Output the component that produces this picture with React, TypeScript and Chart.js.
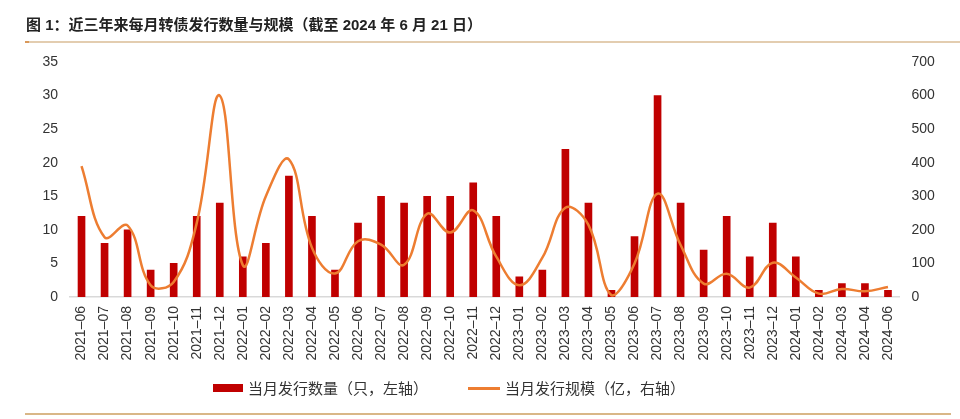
import React, { useEffect, useRef } from "react";
import { Chart, registerables } from "chart.js";

Chart.register(...registerables);

// ---- Data ----
const categories: string[] = [
  "2021–06", "2021–07", "2021–08", "2021–09", "2021–10", "2021–11", "2021–12",
  "2022–01", "2022–02", "2022–03", "2022–04", "2022–05", "2022–06", "2022–07",
  "2022–08", "2022–09", "2022–10", "2022–11", "2022–12",
  "2023–01", "2023–02", "2023–03", "2023–04", "2023–05", "2023–06", "2023–07",
  "2023–08", "2023–09", "2023–10", "2023–11", "2023–12",
  "2024–01", "2024–02", "2024–03", "2024–04", "2024–06",
];

// 当月发行数量（只，左轴）
const issueCounts: number[] = [
  12, 8, 10, 4, 5, 12, 14,
  6, 8, 18, 12, 4, 11, 15, 14, 15, 15, 17, 12,
  3, 4, 22, 14, 1, 9, 30, 14, 7, 12, 6, 11,
  6, 1, 2, 2, 1,
];

// 当月发行规模（亿，右轴）
const issueSizes: number[] = [
  390, 178, 213, 35, 45, 220, 600,
  95, 300, 410, 147, 70, 166, 156, 96, 248, 192, 258, 120,
  35, 117, 266, 215, 5, 100, 308, 155, 40, 69, 28, 102,
  58, 10, 24, 17, 30,
];

const leftAxis = { min: 0, max: 35, step: 5 };
const rightAxis = { min: 0, max: 700, step: 100 };

const titleText = "图 1：近三年来每月转债发行数量与规模（截至 2024 年 6 月 21 日）";
const barLabel = "当月发行数量（只，左轴）";
const lineLabel = "当月发行规模（亿，右轴）";

const BAR_COLOR = "#C00000";
const LINE_COLOR = "#ED7D31";
const TICK_FONT = "'Liberation Sans', Arial, sans-serif";
const CJK_FONT = "'Liberation Sans', 'Noto Sans CJK SC', sans-serif";

export default function App() {
  const canvasRef = useRef<HTMLCanvasElement>(null);

  useEffect(() => {
    document.body.style.margin = "0";
    const canvas = canvasRef.current;
    if (!canvas) return;
    const chart = new Chart(canvas, {
      type: "bar",
      data: {
        labels: categories,
        datasets: [
          {
            type: "bar",
            label: barLabel,
            data: issueCounts,
            backgroundColor: BAR_COLOR,
            yAxisID: "y",
            barThickness: 7,
            order: 1,
          } as any,
          {
            type: "line",
            label: lineLabel,
            data: issueSizes,
            borderColor: LINE_COLOR,
            backgroundColor: LINE_COLOR,
            borderWidth: 2.5,
            pointRadius: 0,
            tension: 0.4,
            yAxisID: "y1",
            order: 0,
            clip: false,
          } as any,
        ],
      },
      options: {
        responsive: false,
        animation: false,
        layout: { padding: { top: 62, bottom: 52, left: 0, right: 0 } },
        plugins: {
          legend: { display: false },
          tooltip: { enabled: false },
        },
        scales: {
          x: {
            grid: { display: false, drawTicks: false },
            border: { display: true, color: "#d9d9d9", width: 1.5 },
            ticks: {
              font: { family: TICK_FONT, size: 14 },
              color: "#333333",
              maxRotation: 90,
              minRotation: 90,
              padding: 9,
              autoSkip: false,
            },
            afterFit: (s: any) => {
              s.height = 70;
            },
          },
          y: {
            position: "left",
            min: leftAxis.min,
            max: leftAxis.max,
            grid: { display: false, drawTicks: false },
            border: { display: false },
            ticks: {
              stepSize: leftAxis.step,
              font: { family: TICK_FONT, size: 14 },
              color: "#333333",
              padding: 12,
            },
            afterFit: (s: any) => {
              s.width = 70;
            },
          },
          y1: {
            position: "right",
            min: rightAxis.min,
            max: rightAxis.max,
            grid: { display: false, drawTicks: false },
            border: { display: false },
            ticks: {
              stepSize: rightAxis.step,
              font: { family: TICK_FONT, size: 14 },
              color: "#333333",
              padding: 12,
            },
            afterFit: (s: any) => {
              s.width = 60.5;
            },
          },
        },
      },
    });
    return () => chart.destroy();
  }, []);

  const legendText: React.CSSProperties = {
    position: "absolute",
    top: 378,
    fontFamily: "'Noto Sans CJK SC', sans-serif",
    fontSize: 15,
    lineHeight: "20px",
    color: "#333333",
    whiteSpace: "nowrap",
  };

  return (
    <div style={{ position: "relative", width: 960, height: 419, background: "#ffffff", overflow: "hidden" }}>
      <canvas ref={canvasRef} width={960} height={419} style={{ display: "block", position: "absolute", left: 0, top: 0 }} />
      <div
        style={{
          position: "absolute",
          left: 26,
          top: 15,
          fontFamily: CJK_FONT,
          fontWeight: "bold",
          fontSize: 15,
          lineHeight: "20px",
          color: "#222222",
          whiteSpace: "nowrap",
        }}
      >
        {titleText}
      </div>
      <div style={{ position: "absolute", left: 25, top: 41, width: 935, height: 1.5, background: "#e3cdb0" }} />
      <div style={{ position: "absolute", left: 25, top: 41, width: 4, height: 1.5, background: "#d9985a" }} />
      <div style={{ position: "absolute", left: 213, top: 384, width: 30, height: 8, background: BAR_COLOR }} />
      <div style={{ ...legendText, left: 248 }}>{barLabel}</div>
      <div style={{ position: "absolute", left: 468, top: 387, width: 32, height: 3, background: LINE_COLOR }} />
      <div style={{ ...legendText, left: 505 }}>{lineLabel}</div>
      <div style={{ position: "absolute", left: 25, top: 413, width: 926, height: 2, background: "#d9b787" }} />
    </div>
  );
}
